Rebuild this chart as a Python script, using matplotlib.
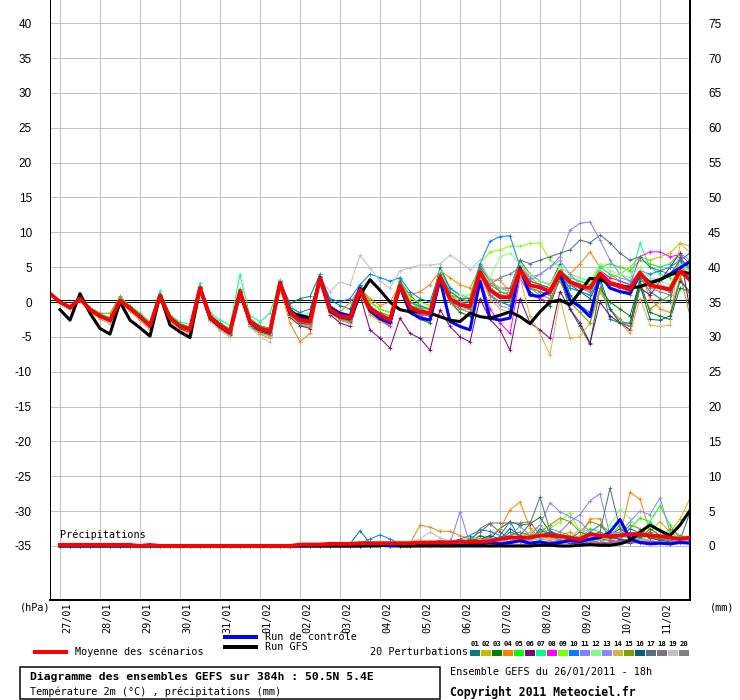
import numpy as np
import matplotlib
matplotlib.use("Agg")
import matplotlib.pyplot as plt
import matplotlib.transforms as mtransforms
from matplotlib.lines import Line2D
from matplotlib.patches import Rectangle

plt.rcParams["axes.unicode_minus"] = False

# 6-hourly steps from 26/01 18h, 0..384h
hours = np.arange(0, 385, 6)
day_ticks = np.arange(6, 385, 24)
day_labels = ["27/01", "28/01", "29/01", "30/01", "31/01", "01/02", "02/02", "03/02",
              "04/02", "05/02", "06/02", "07/02", "08/02", "09/02", "10/02", "11/02"]

member_colors = ["#008080", "#c0c000", "#008000", "#ff8000", "#00ff00", "#800080", "#00ff80",
                 "#ff00ff", "#80ff00", "#0080ff", "#8080ff", "#80ff80", "#8888ff", "#e0b040",
                 "#80a000", "#006080", "#507080", "#807080", "#c0c0c0", "#808080"]

# temperature 2m (°C)
t_mean = [1.2, 0.0, -0.8, 0.5, -1.1, -2.0, -2.6, 0.2, -0.9, -2.1, -3.4, 0.9, -2.3, -3.5, -3.9, 2.0,
          -2.1, -3.4, -4.3, 1.5, -2.8, -3.8, -4.2, 2.7, -1.4, -2.6, -2.8, 3.4, -1.1, -2.0, -2.3, 1.7,
          -0.9, -1.9, -2.6, 2.4, -0.7, -1.4, -1.6, 3.6, 0.5, -0.4, -0.6, 4.3, 1.7, 0.7, 0.7, 4.6,
          2.4, 2.1, 1.5, 4.3, 2.9, 2.3, 2.0, 4.1, 2.7, 2.3, 1.8, 4.2, 2.4, 2.1, 1.8, 4.5, 3.2]
t_control = [1.2, 0.0, -0.8, 0.5, -1.1, -2.0, -2.6, 0.2, -0.9, -2.1, -3.4, 0.9, -2.3, -3.5, -3.9, 2.0,
             -2.1, -3.4, -4.3, 1.5, -2.8, -3.8, -4.2,
             2.8, -1.2, -2.2, -2.5, 3.6, -0.8, -1.6, -2.0, 2.0, -1.2, -2.4, -3.0, 2.2, -1.5, -2.3, -2.6,
             3.2, -2.8, -3.5, -4.0, 3.0, -2.3, -2.6, -2.3, 4.9, 1.0, 0.8, 1.5, 4.1, 0.3, -0.7, -2.1,
             3.9, 2.0, 1.5, 1.2, 4.0, 2.8, 3.2, 4.0, 4.9, 5.8]
t_gfs = [-1.1, -2.6, 1.2, -1.6, -3.8, -4.6, 0.0, -2.6, -3.7, -4.9, 1.0, -3.3, -4.3, -5.1,
         1.9, -2.3, -3.5, -4.4, 1.4, -2.9, -3.9, -4.3,
         2.6, -1.6, -1.9, -2.3, 3.3, -1.3, -2.1, -2.4,
         1.0, 3.2, 1.7, 0.0, -1.1, -1.4, -1.4, -1.6, -2.1, -2.6, -2.8, -1.6,
         -2.1, -2.3, -1.9, -1.4, -2.1, -3.1, -1.4, 0.0, 0.3, -0.4, 1.5, 3.4, 3.2, 2.7, 2.4, 2.0,
         2.2, 2.7, 3.2, 3.9, 4.3, 4.1]

t01 = [1.2, 0.1, -0.7, 0.6, -1.0, -1.9, -2.5, 0.3, -0.8, -2.0, -3.3, 1.0, -2.2, -3.4, -3.8, 2.1,
       -2.0, -3.3, -4.2, 1.6, -2.7, -3.6, -4.0, 3.0, -0.2, 0.5, 0.8, 4.0, 0.3, -0.5, -1.0, 2.5,
       0.0, -1.0, -1.5, 3.0, 1.0, -0.5, -1.0, 5.0, 2.0, 1.0, 0.5, 5.5, 3.0, 1.5, 1.0, 6.0,
       4.0, 3.0, 2.5, 5.5, 1.0, -0.5, -1.5, 3.0, -2.5, -3.0, -3.5, 3.5, 1.5, 0.5, 0.0, 6.5, 4.5]
t02 = [1.1, -0.1, -0.9, 0.4, -1.2, -2.2, -2.8, 0.0, -1.1, -2.4, -3.7, 0.7, -2.6, -3.8, -4.3, 1.6,
       -2.5, -3.9, -4.8, 1.2, -3.3, -4.4, -4.9, 2.2, -2.0, -3.3, -3.6, 3.0, -1.5, -2.6, -3.0, 1.2,
       -1.8, -2.8, -3.5, 2.0, 0.5, 0.0, -0.5, 3.5, 1.5, 0.5, 0.0, 3.8, 2.5, 2.0, 1.5, 5.5,
       3.5, 2.5, 1.0, 3.5, 2.0, 1.5, 1.0, 4.5, 3.5, 4.0, 5.0, 6.5, 6.0, 6.5, 7.0, 8.5, 8.0]
t03 = [1.3, 0.1, -0.6, 0.7, -0.9, -1.8, -2.4, 0.4, -0.7, -1.9, -3.2, 1.1, -2.0, -3.1, -3.6, 2.3,
       -1.8, -3.0, -3.9, 1.9, -2.4, -3.4, -3.8, 3.2, -1.0, -2.2, -2.4, 3.8, -0.5, -1.5, -1.8, 2.3,
       -1.5, -2.5, -3.0, 2.8, -1.0, -2.5, -3.0, 3.0, 0.0, -1.5, -2.0, 4.0, 2.0, 1.0, 0.5, 4.0,
       1.5, 0.5, -0.5, 3.5, -1.0, -3.5, -6.0, 2.0, 0.0, -1.0, -2.0, 3.0, -1.5, -2.0, -2.5, 2.0, 1.5]
t04 = [1.1, -0.2, -1.0, 0.3, -1.4, -2.4, -3.1, -0.1, -1.3, -2.6, -4.0, 0.6, -2.9, -4.2, -4.7, 1.7,
       -2.7, -4.0, -5.0, 1.0, -3.5, -4.6, -5.2, 2.0, -3.0, -5.7, -4.5, 2.8, -1.0, -1.5, 0.0, 2.0,
       0.5, -0.5, 0.0, 2.5, 1.0, 1.5, 2.5, 4.5, 3.5, 2.5, 2.0, 5.0, 3.2, 3.1, 1.5, 5.5,
       4.0, 3.0, 2.5, 5.0, 4.0, 5.5, 7.2, 5.0, 4.0, 3.0, 2.5, 4.5, 0.5, -1.0, -1.5, 3.5, 1.0]
t05 = [1.2, 0.0, -0.7, 0.6, -1.0, -2.1, -2.7, 0.3, -1.0, -2.2, -3.5, 1.0, -2.4, -3.6, -4.1, 2.2,
       -2.2, -3.6, -4.5, 1.7, -2.9, -4.0, -4.5, 2.9, -1.8, -3.2, -3.5, 3.6, -1.3, -2.4, -2.9, 2.2,
       -1.2, -2.2, -2.9, 3.3, 0.0, -1.0, -1.5, 4.5, 1.0, 0.0, -0.5, 5.0, 3.0, 2.0, 1.5, 5.0,
       3.0, 2.5, 2.0, 4.0, 3.5, 3.0, 2.5, 5.0, 5.5, 5.0, 4.5, 6.0, 5.5, 5.0, 5.5, 7.0, 6.0]
t06 = [1.2, -0.1, -0.9, 0.5, -1.2, -2.1, -2.8, 0.1, -1.1, -2.3, -3.7, 0.8, -2.6, -3.9, -4.4, 1.8,
       -2.6, -3.8, -4.7, 1.3, -3.2, -4.3, -4.7, 2.4, -2.2, -3.4, -3.8, 3.0,
       -1.8, -3.0, -3.5, 1.0, -4.0, -5.2, -6.6, -2.3, -4.5, -5.2, -6.9, -1.1, -3.5, -5.0, -5.7,
       0.5, -2.5, -4.0, -6.9, 0.5, -3.0, -4.0, -5.2, 1.5, -1.0, -3.0, -5.9, 0.0, -2.0, -3.0, -4.0,
       2.0, 1.0, 3.0, 5.0, 7.0, -1.1]
t07 = [1.3, 0.1, -0.6, 0.8, -0.8, -1.7, -2.2, 0.7, -0.5, -1.6, -2.8, 1.6, -1.8, -2.9, -3.2, 2.7,
       -1.5, -2.6, -3.3, 3.9, -2.0, -2.8, -1.6,
       3.0, -0.5, -1.8, -2.0, 3.8, -0.8, -1.8, -2.2, 2.5, -0.5, -1.5, -2.0, 3.5, 0.0, -0.8, -1.0,
       4.5, 1.5, 0.5, 0.0, 5.0, 2.0, 1.0, 0.5, 5.0, 3.0, 2.5, 2.0, 4.5, 3.5, 3.0, 2.5, 5.0, 4.0,
       3.5, 3.0, 8.4, 5.0, 4.0, 3.5, 6.0, 4.5]
t08 = [1.2, 0.0, -0.9, 0.4, -1.2, -2.1, -2.8, 0.2, -1.0, -2.3, -3.6, 0.9, -2.4, -3.7, -4.1, 2.0,
       -2.3, -3.6, -4.6, 1.4, -3.1, -4.1, -4.6,
       2.5, -1.8, -3.0, -3.4, 3.2, -1.5, -2.6, -3.0, 1.5, -1.5, -2.5, -3.5, 2.0, -1.0, -2.0, -2.5,
       3.5, 0.0, -1.0, -1.5, 3.5, -1.0, -3.0, -4.5, 3.5, 1.0, 0.5, 0.0, 4.0, 2.5, 2.0, 1.5, 4.5,
       3.5, 3.0, 2.5, 6.5, 7.2, 7.2, 6.5, 6.8, 5.5]
t09 = [1.3, 0.0, -0.8, 0.6, -1.0, -2.0, -2.5, 0.3, -0.8, -2.0, -3.3, 1.0, -2.2, -3.4, -3.8, 2.1,
       -2.0, -3.3, -4.1, 1.6, -2.6, -3.6, -4.0,
       2.8, -1.2, -2.4, -2.6, 3.6, -0.8, -1.5, -2.0, 2.0, 0.0, -1.0, -1.5, 3.0, 0.5, 0.0, -0.5,
       4.0, 2.0, 1.0, 1.0, 5.5, 7.2, 7.5, 8.0, 8.0, 8.4, 8.5, 6.0, 5.0, 4.0, 3.5, 3.0, 4.5, 3.0,
       2.5, 2.0, 4.0, 3.0, 3.5, 4.0, 5.0, 4.5]
t10 = [1.2, 0.1, -0.7, 0.5, -1.1, -1.9, -2.5, 0.2, -0.9, -2.0, -3.3, 0.9, -2.2, -3.4, -3.8, 1.9,
       -2.0, -3.2, -4.1, 1.5, -2.6, -3.5, -3.8,
       2.9, -0.8, -1.5, -1.0, 3.5, 0.5, 0.0, 0.5, 2.5, 4.0, 3.5, 3.0, 3.5, 1.5, 0.5, 0.0,
       4.5, 2.0, 1.0, 0.5, 5.5, 8.7, 9.4, 9.5, 5.0, 3.0, 2.5, 2.0, 4.0, 2.0, 1.5, 1.0, 3.5, 2.5,
       2.0, 2.5, 4.5, 4.0, 4.5, 5.0, 6.0, 7.0]
t11 = [1.1, -0.1, -0.8, 0.4, -1.1, -2.1, -2.7, 0.1, -1.0, -2.2, -3.5, 0.8, -2.4, -3.6, -4.0, 1.9,
       -2.2, -3.5, -4.4, 1.4, -2.9, -3.9, -4.4,
       2.6, -1.6, -2.8, -3.0, 3.3, -1.2, -2.2, -2.5, 1.8, -1.0, -2.0, -2.5, 2.5, -0.5, -1.0, -1.5,
       3.5, 0.5, 0.0, 0.0, 4.5, 2.0, 1.0, 1.5, 5.0, 3.5, 4.0, 5.0, 6.5, 10.3, 11.3, 11.5, 8.9, 6.0,
       4.0, 3.0, 4.0, 2.5, 2.0, 1.5, 4.0, 3.0]
t12 = [1.3, 0.1, -0.7, 0.6, -1.0, -1.9, -2.5, 0.3, -0.8, -2.0, -3.2, 1.1, -2.1, -3.3, -3.7, 2.2,
       -1.9, -3.2, -4.0, 1.7, -2.5, -3.5, -3.9,
       3.1, -1.0, -2.2, -2.4, 3.7, -0.8, -1.6, -1.9, 2.0, -0.5, -1.5, -2.0, 3.0, 0.0, -0.5, -1.0,
       4.5, 1.5, 1.0, 0.5, 5.0, 3.5, 6.5, 7.0, 5.5, 4.0, 3.0, 2.5, 5.0, 4.0, 3.5, 3.0, 5.5, 4.5,
       4.0, 3.5, 5.0, 3.5, 3.0, 2.5, 5.5, 4.5]
t13 = [1.2, 0.0, -0.8, 0.5, -1.1, -2.0, -2.6, 0.2, -0.9, -2.1, -3.4, 0.9, -2.3, -3.5, -3.9, 2.0,
       -2.1, -3.4, -4.3, 1.6, -2.8, -3.8, -4.2,
       2.7, -1.4, -2.6, -2.8, 3.4, -1.0, -2.0, -2.3, 1.8, -0.8, -1.8, -2.5, 2.5, -0.5, -1.2, -1.5,
       3.5, 0.5, -0.5, -1.0, 4.0, 1.0, -0.5, -1.0, 4.5, 3.0, 4.0, 5.0, 6.0, 4.0, 2.5, 2.0, 4.5,
       3.0, 2.5, 2.0, 4.0, 3.0, 2.5, 2.0, 4.5, 4.0]
t14 = [1.1, -0.1, -0.9, 0.3, -1.3, -2.2, -2.9, 0.0, -1.2, -2.5, -3.8, 0.7, -2.7, -4.0, -4.5, 1.7,
       -2.6, -4.0, -4.9, 1.2, -3.3, -4.4, -4.9,
       2.3, -2.0, -3.2, -3.4, 2.9, -1.6, -2.6, -3.0, 1.3, -1.8, -2.8, -3.2, 2.0, -1.5, -2.5, -2.5,
       3.0, 0.0, -1.0, -1.5, 3.5, 0.5, -1.0, -1.5, 3.5, -2.0, -4.5, -7.6, 0.5, -5.2, -5.0, -3.0,
       1.5, -1.0, -3.0, -4.5, 0.5, -3.3, -3.5, -3.3, 8.5, 7.0]
t15 = [1.2, 0.0, -0.7, 0.6, -0.8, -1.6, -1.6, 0.8, -0.6, -1.8, -3.0, 1.0, -2.0, -3.2, -3.6, 2.1,
       -1.9, -3.1, -4.0, 1.6, -2.6, -3.5, -3.9,
       2.8, -1.3, -2.5, -2.7, 3.5, -1.0, -1.8, -2.1, 2.0, -0.8, -1.5, -2.0, 3.0, -0.5, -1.0, -1.0,
       4.0, 1.0, 0.5, 0.0, 4.5, 2.5, 1.5, 1.0, 4.5, 2.0, 1.0, 0.5, 3.0, 0.0, -1.5, -3.0, 2.0,
       -1.0, -2.5, -3.5, 2.0, -1.0, 0.0, 1.0, 4.0, -2.0]
t16 = [1.2, 0.0, -0.8, 0.5, -1.2, -2.0, -2.7, 0.2, -1.0, -2.2, -3.5, 0.9, -2.4, -3.6, -4.0, 2.0,
       -2.2, -3.5, -4.4, 1.5, -3.5, -4.2, -4.6,
       2.5, -1.8, -3.0, -3.2, 3.2, -1.3, -2.3, -2.7, 1.5, -1.2, -2.2, -2.8, 2.3, -1.0, -1.8, -2.0,
       3.5, 0.0, -0.5, -1.0, 4.0, 1.0, 0.0, -0.5, 4.0, 2.0, 1.5, 1.0, 4.0, 2.5, 1.5, 0.5, 3.5,
       -1.0, -3.0, -3.0, 2.5, -2.5, -2.6, -2.0, 3.0, 1.5]
t17 = [1.2, 0.0, -0.8, 0.5, -1.0, -1.9, -2.5, 0.3, -0.7, -1.9, -3.2, 1.0, -2.1, -3.3, -3.7, 2.1,
       -2.0, -3.3, -4.1, 1.6, -2.7, -3.7, -4.1,
       2.9, -1.2, -2.4, -2.6, 3.6, -1.0, -1.9, -2.2, 2.0, -0.6, -1.6, -2.3, 3.0, 0.0, -0.6, -1.0,
       4.0, 1.5, 0.5, 0.5, 5.0, 3.0, 2.0, 2.0, 6.0, 5.5, 6.0, 6.5, 7.0, 7.5, 8.9, 8.5, 9.6, 8.5,
       7.0, 6.0, 6.5, 5.0, 4.5, 4.0, 6.0, 5.0]
t18 = [1.2, 0.0, -0.9, 0.4, -1.1, -2.1, -2.7, 0.1, -1.0, -2.2, -3.5, 0.8, -2.4, -3.6, -4.0, 1.9,
       -2.2, -3.5, -4.4, 1.4, -2.9, -3.9, -4.3,
       2.6, -1.5, -2.7, -2.9, 3.3, -1.2, -2.1, -2.4, 1.6, -1.0, -2.0, -2.7, 2.3, -0.8, -1.5, -1.8,
       3.5, 0.0, -0.5, -0.5, 4.5, 2.5, 3.5, 4.0, 5.0, 3.0, 2.5, 2.0, 4.5, 3.0, 2.5, 2.0, 4.0,
       2.5, 2.0, 1.5, 4.0, 2.5, 2.0, 1.5, 5.0, 4.0]
t19 = [1.1, -0.1, -1.0, 0.3, -1.3, -2.3, -3.0, 0.0, -1.2, -2.5, -3.9, 0.6, -2.8, -4.1, -4.6, 1.6,
       -2.7, -4.1, -5.0, 1.1, -3.6, -5.0, -5.8,
       2.0, -1.5, -2.0, -1.5, 3.5, 1.5, 2.9, 2.4, 6.7, 4.9, 3.0, 2.0, 4.5, 4.9, 5.3, 5.3,
       5.5, 6.7, 5.8, 4.6, 6.0, 3.0, 2.0, 1.5, 4.0, 2.0, 1.5, 1.0, 4.0, 2.5, 2.0, 1.5, 4.5,
       3.0, 2.5, 2.0, 4.5, 3.0, 2.5, 2.0, 5.0, 3.5]
t20 = [1.2, 0.0, -0.8, 0.4, -1.2, -2.1, -2.7, 0.1, -1.0, -2.3, -3.6, 0.8, -2.5, -3.7, -4.1, 1.8,
       -2.4, -3.7, -4.6, 1.3, -3.1, -4.1, -4.5,
       2.5, -1.7, -2.9, -3.1, 3.2, -1.4, -2.4, -2.7, 1.5, -1.2, -2.3, -3.0, 2.2, -1.0, -1.8, -2.0,
       3.5, 0.0, -1.0, -1.0, 4.0, 1.0, 0.0, 0.0, 4.5, 2.0, 1.5, 1.0, 4.0, 2.5, 2.0, 1.5, 4.0,
       2.0, 1.5, 1.0, 4.0, 2.0, 1.5, 1.0, 4.5, 3.0]

# precipitation (mm per 6h), from 27/01 00h (t1..t64)
p_mean = [0.15, 0.15, 0.15, 0.15, 0.15, 0.15, 0.15, 0.15, 0.0, 0.15,
          0.0, 0.0, 0.0, 0.0, 0.0, 0.0, 0.0, 0.0, 0.0, 0.0, 0.0, 0.0, 0.0, 0.0,
          0.2, 0.2, 0.2, 0.3, 0.3, 0.3, 0.4, 0.4, 0.4, 0.4, 0.4, 0.4,
          0.5, 0.5, 0.5, 0.5, 0.6, 0.6, 0.6, 0.7, 1.0, 1.2, 1.2, 1.2, 1.5, 1.5, 1.4, 1.2,
          0.9, 1.7, 1.5, 1.4, 1.5, 1.7, 1.7, 1.5, 1.4, 1.2, 1.0, 1.2]
p_control = [0.0] * 28 + [0.0, 0.0, 0.0, 0.1, 0.1, 0.0, 0.0, 0.0, 0.1, 0.1, 0.1, 0.2, 0.1, 0.2,
                          0.3, 0.5, 0.3, 0.5, 0.8, 0.4, 0.6, 0.3, 0.5, 0.8, 0.6, 1.0, 1.2, 2.0,
                          3.8, 1.0, 0.5, 0.3, 0.4, 0.3, 0.5, 0.4]
p_gfs = [0.0] * 28 + [0.0, 0.0, 0.0, 0.0, 0.0, 0.4, 0.0, 0.0, 0.0, 0.0, 0.0, 0.0, 0.0, 0.0,
                      0.0, 0.0, 0.0, 0.0, 0.0, 0.0, 0.1, 0.1, 0.0, 0.0, 0.1, 0.2, 0.1, 0.1,
                      0.3, 0.8, 2.0, 3.0, 2.2, 1.5, 3.0, 5.1]

p01 = [0.0] * 28 + [0.2, 0.3, 2.2, 0.4, 0.2, 0.1, 0.1, 0.2, 0.3, 0.2, 0.5, 0.8, 0.3, 0.6, 1.0, 1.2,
                    0.8, 2.0, 1.5, 1.0, 2.2, 1.8, 0.6, 0.4, 1.2, 0.8, 0.5, 1.4, 0.9, 0.6, 1.0, 0.8,
                    0.5, 0.3, 0.8, 4.8]
p02 = [0.0] * 28 + [0.0, 0.0, 0.0, 0.0, 0.0, 0.0, 0.0, 0.1, 0.1, 0.1, 0.2, 0.2, 0.3, 0.5, 0.8, 0.6,
                    0.8, 1.5, 1.0, 2.0, 3.0, 1.5, 1.0, 0.8, 1.5, 1.0, 0.8, 1.2, 1.5, 1.0, 0.8, 2.0,
                    3.5, 2.0, 3.9, 6.8]
p03 = [0.0] * 28 + [0.0, 0.1, 0.3, 0.2, 0.1, 0.1, 0.1, 0.1, 0.2, 0.2, 0.3, 0.3, 0.4, 0.6, 1.5, 1.0,
                    2.5, 3.5, 3.0, 3.2, 4.1, 2.0, 1.5, 1.0, 1.2, 0.8, 1.0, 1.5, 2.5, 1.5, 1.0, 2.5,
                    1.5, 1.0, 0.8, 0.5]
p04 = [0.0] * 28 + [0.0, 0.0, 0.1, 0.1, 0.2, 0.2, 0.2, 0.3, 3.0, 2.7, 2.1, 2.1, 1.5, 1.0, 0.8, 1.5,
                    2.4, 5.2, 6.3, 2.6, 1.0, 0.8, 1.5, 2.0, 1.0, 3.9, 3.9, 0.5, 1.5, 7.7, 6.7, 2.0,
                    1.0, 0.5, 0.8, 0.6]
p05 = [0.0] * 28 + [0.0, 0.0, 0.0, 0.0, 0.0, 0.0, 0.1, 0.1, 0.1, 0.2, 0.3, 0.3, 0.5, 0.6, 0.8, 1.0,
                    0.5, 1.0, 1.5, 1.0, 1.5, 1.0, 2.0, 1.5, 1.0, 2.5, 2.0, 1.5, 3.0, 2.5, 4.0, 3.5,
                    5.8, 3.0, 1.0, 0.8]
p06 = [0.0] * 28 + [0.0, 0.0, 0.0, 0.0, 0.0, 0.0, 0.0, 0.0, 0.1, 0.1, 0.1, 0.2, 0.2, 0.3, 0.3, 0.2,
                    0.3, 0.4, 0.5, 0.4, 0.3, 0.5, 0.6, 0.4, 0.3, 0.5, 0.4, 0.3, 0.5, 0.4, 0.6, 0.5,
                    0.4, 0.3, 0.5, 0.4]
p07 = [0.0] * 28 + [0.0, 0.0, 0.0, 0.0, 0.0, 0.1, 0.1, 0.2, 0.2, 0.2, 0.3, 0.4, 0.5, 0.6, 0.8, 1.0,
                    1.2, 1.5, 1.0, 0.8, 1.0, 1.5, 1.2, 1.0, 0.8, 1.5, 1.2, 1.0, 2.0, 1.5, 1.2, 3.5,
                    2.0, 1.0, 0.8, 0.6]
p08 = [0.0] * 28 + [0.0, 0.0, 0.0, 0.0, 0.0, 0.0, 0.0, 0.1, 0.1, 0.1, 0.1, 0.2, 0.2, 0.3, 0.3, 0.4,
                    0.5, 0.6, 0.5, 0.4, 0.6, 0.5, 0.4, 0.5, 0.6, 0.5, 0.4, 0.6, 0.8, 0.6, 0.5, 0.7,
                    0.5, 0.4, 0.6, 0.5]
p09 = [0.0] * 28 + [0.0, 0.0, 0.0, 0.0, 0.0, 0.1, 0.1, 0.1, 0.2, 0.3, 0.5, 0.6, 0.8, 1.2, 1.0, 0.8,
                    0.6, 1.0, 1.5, 2.0, 1.5, 2.5, 3.5, 4.8, 2.0, 1.5, 2.0, 1.0, 1.5, 1.2, 1.0, 1.5,
                    1.0, 0.8, 1.5, 1.2]
p10 = [0.0] * 28 + [0.1, 0.2, 0.3, 1.0, 1.6, 1.0, 0.3, 0.1, 0.2, 0.5, 0.3, 0.6, 1.0, 1.5, 2.3, 2.1,
                    1.5, 3.5, 1.0, 0.8, 2.5, 1.5, 1.0, 0.8, 1.2, 2.0, 3.0, 1.5, 1.0, 2.5, 1.8, 1.2,
                    0.8, 1.0, 1.5, 1.0]
p11 = [0.0] * 28 + [0.0, 0.0, 0.0, 0.1, 0.1, 0.1, 0.2, 0.3, 0.5, 0.3, 0.4, 0.3, 4.9, 0.3, 0.5, 0.8,
                    1.0, 1.5, 2.0, 1.5, 1.2, 2.5, 2.0, 3.5, 4.5, 6.5, 7.5, 1.5, 1.0, 2.0, 1.5, 1.2,
                    1.0, 0.8, 0.6, 0.5]
p12 = [0.0] * 28 + [0.0, 0.0, 0.0, 0.0, 0.0, 0.0, 0.1, 0.1, 0.1, 0.2, 0.2, 0.3, 0.4, 0.5, 0.8, 1.0,
                    0.8, 1.2, 1.5, 1.0, 2.0, 1.5, 1.2, 1.0, 2.5, 2.0, 1.5, 3.0, 5.3, 4.0, 2.0, 1.5,
                    1.0, 0.8, 0.6, 0.5]
p13 = [0.0] * 28 + [0.0, 0.0, 0.0, 0.0, 0.1, 0.1, 0.1, 0.2, 0.2, 0.3, 0.3, 0.4, 0.5, 0.6, 0.8, 1.2,
                    0.6, 1.5, 2.8, 1.5, 3.0, 6.2, 4.9, 4.2, 3.5, 2.0, 1.5, 1.8, 2.0, 3.5, 5.0, 4.5,
                    6.9, 2.0, 1.0, 0.8]
p14 = [0.0] * 28 + [0.0, 0.0, 0.0, 0.0, 0.0, 0.0, 0.0, 0.0, 0.0, 0.0, 0.1, 0.1, 0.1, 0.1, 0.2, 0.2,
                    0.1, 0.1, 0.2, 0.2, 0.3, 0.2, 0.3, 0.5, 0.8, 0.6, 0.5, 1.0, 1.5, 1.2, 1.0, 0.8,
                    1.2, 1.0, 1.5, 1.0]
p15 = [0.0] * 28 + [0.0, 0.0, 0.0, 0.0, 0.0, 0.0, 0.0, 0.1, 0.1, 0.1, 0.2, 0.2, 0.3, 0.4, 0.6, 0.8,
                    1.0, 1.5, 2.0, 1.5, 2.0, 3.0, 4.0, 3.5, 2.0, 3.5, 3.0, 2.0, 1.5, 3.0, 2.5, 1.5,
                    1.0, 2.5, 1.5, 1.0]
p16 = [0.0] * 28 + [0.0, 0.0, 0.0, 0.1, 0.1, 0.1, 0.1, 0.2, 0.2, 0.3, 0.3, 0.4, 0.5, 0.8, 1.0, 1.5,
                    1.0, 2.5, 1.5, 1.0, 1.5, 2.0, 1.5, 1.0, 0.8, 1.0, 1.5, 1.2, 1.0, 0.8, 1.5, 1.2,
                    0.8, 0.6, 0.5, 0.5]
p17 = [0.0] * 28 + [0.0, 0.0, 0.0, 0.0, 0.0, 0.1, 0.1, 0.1, 0.2, 0.5, 0.8, 0.6, 0.4, 1.0, 2.0, 3.2,
                    2.0, 1.0, 1.5, 3.2, 7.0, 2.2, 1.5, 1.0, 2.0, 1.5, 2.0, 8.3, 2.5, 1.5, 1.2, 2.0,
                    1.0, 0.8, 0.6, 0.5]
p18 = [0.0] * 28 + [0.0, 0.0, 0.0, 0.0, 0.0, 0.0, 0.1, 0.1, 0.2, 0.2, 0.3, 0.3, 0.4, 0.5, 2.5, 3.3,
                    3.3, 3.3, 3.3, 3.5, 1.5, 1.0, 0.8, 1.0, 1.2, 0.8, 1.0, 0.8, 0.6, 1.0, 0.8, 0.6,
                    0.5, 0.4, 0.6, 0.5]
p19 = [0.0] * 28 + [0.3, 0.3, 0.2, 0.2, 0.1, 0.1, 0.2, 0.5, 1.0, 2.0, 1.2, 0.7, 0.3, 0.5, 1.0, 0.8,
                    0.6, 1.0, 1.2, 0.8, 1.5, 1.0, 0.8, 1.2, 2.5, 1.5, 1.0, 2.0, 1.5, 1.0, 0.8, 1.5,
                    2.5, 1.0, 0.6, 0.5]
p20 = [0.0] * 28 + [0.0, 0.0, 0.0, 0.0, 0.0, 0.0, 0.0, 0.1, 0.1, 0.1, 0.1, 0.2, 0.2, 0.3, 0.4, 0.5,
                    0.4, 0.6, 0.5, 0.4, 0.5, 0.6, 0.8, 0.6, 0.5, 0.6, 0.5, 0.4, 0.6, 0.5, 0.4, 0.5,
                    0.6, 0.5, 0.4, 0.4]

temp_members = [t01, t02, t03, t04, t05, t06, t07, t08, t09, t10,
                t11, t12, t13, t14, t15, t16, t17, t18, t19, t20]
prec_members = [p01, p02, p03, p04, p05, p06, p07, p08, p09, p10,
                p11, p12, p13, p14, p15, p16, p17, p18, p19, p20]

W, H = 740, 700
PX = 0.72  # 1 pixel in points
MONO = "DejaVu Sans Mono"


def fx(x):
    return x / W


def fy(y):
    return 1 - y / H


fig = plt.figure(figsize=(7.4, 7.0), dpi=100)
ax = fig.add_axes([fx(50), fy(600), 640 / W, 600 / H])
ax2 = ax.twinx()

ax.set_xlim(0, 384)
ax.set_ylim(-42.75, 43.33)
ax2.set_ylim(-7.75, 78.33)

ax.set_axisbelow(True)
ax.set_yticks(np.arange(-35, 41, 5))
ax2.set_yticks(np.arange(0, 76, 5))
ax.set_xticks(day_ticks)
ax.set_xticklabels(day_labels, rotation=90, fontfamily=MONO, fontsize=7.3, va="top", ha="center")
ax.grid(True, color="#c0c0c0", lw=PX)
ax.tick_params(axis="both", length=0)
ax.tick_params(axis="y", pad=13, labelsize=8.5, labelfontfamily="Liberation Sans")
ax.tick_params(axis="x", pad=2)
ax2.tick_params(axis="y", length=0, pad=13, labelsize=8.5, labelfontfamily="Liberation Sans")
shift = mtransforms.ScaledTranslation(7 / 100, 0, fig.dpi_scale_trans)
for lab in ax.get_xticklabels():
    lab.set_transform(lab.get_transform() + shift)

for a in (ax, ax2):
    a.spines["top"].set_visible(False)
    a.spines["left"].set_linewidth(PX)
    a.spines["bottom"].set_linewidth(2 * PX)
    a.spines["right"].set_linewidth(2 * PX)

ax.axhline(0, color="black", lw=PX, zorder=1.5)
ax.axhline(0.3, color="black", lw=PX, zorder=1.5)

# temperature spaghetti
for vals, col in zip(temp_members, member_colors):
    ax.plot(hours, vals, color=col, lw=PX, marker="+", ms=3, mew=0.6, zorder=2)
ax.plot(hours, t_control, color="#0000ff", lw=2.2, zorder=3)
ax.plot(hours[1:], t_gfs, color="black", lw=2.2, zorder=3)
ax.plot(hours, t_mean, color="#ff0000", lw=2.8, zorder=4)

# precipitation spaghetti (right axis)
for vals, col in zip(prec_members, member_colors):
    ax2.plot(hours[1:], vals, color=col, lw=PX, marker="+", ms=3, mew=0.6, zorder=2)
ax2.plot(hours[1:], p_control, color="#0000ff", lw=2.2, zorder=3)
ax2.plot(hours[1:], p_gfs, color="black", lw=2.2, zorder=3)
ax2.plot(hours[1:], p_mean, color="#ff0000", lw=2.8, zorder=4)

fs = 7.3
fig.text(fx(60), fy(535), "Précipitations", fontfamily=MONO, fontsize=fs, va="center")
fig.text(fx(20), fy(607), "(hPa)", fontfamily=MONO, fontsize=fs, va="center")
fig.text(fx(710), fy(607), "(mm)", fontfamily=MONO, fontsize=fs, va="center")

# legend
fig.add_artist(Line2D([fx(35), fx(66)], [fy(652), fy(652)], color="#ff0000", lw=4 * PX))
fig.text(fx(75), fy(652), "Moyenne des scénarios", fontfamily=MONO, fontsize=fs, va="center")
fig.add_artist(Line2D([fx(225), fx(256)], [fy(637), fy(637)], color="#0000ff", lw=4 * PX))
fig.text(fx(265), fy(637), "Run de contrôle", fontfamily=MONO, fontsize=fs, va="center")
fig.add_artist(Line2D([fx(225), fx(256)], [fy(647), fy(647)], color="black", lw=4 * PX))
fig.text(fx(265), fy(647), "Run GFS", fontfamily=MONO, fontsize=fs, va="center")
fig.text(fx(370), fy(652), "20 Perturbations", fontfamily=MONO, fontsize=fs, va="center")
for i, col in enumerate(member_colors):
    x0 = 470 + 11 * i
    fig.add_artist(Rectangle((fx(x0), fy(656)), 10 / W, 6 / H, color=col, lw=0))
    fig.text(fx(x0 + 5), fy(643.5), "%02d" % (i + 1), fontfamily=MONO, fontsize=5.2,
             fontweight="bold", ha="center", va="center")

# title box
fig.add_artist(Rectangle((fx(20), fy(699)), 420 / W, 32 / H, fill=False, ec="black", lw=1.5 * PX))
fig.text(fx(30), fy(677), "Diagramme des ensembles GEFS sur 384h : 50.5N 5.4E",
         fontfamily=MONO, fontsize=8.2, fontweight="bold", va="center")
fig.text(fx(30), fy(692), "Température 2m (°C) , précipitations (mm)",
         fontfamily=MONO, fontsize=fs, va="center")
fig.text(fx(450), fy(672), "Ensemble GEFS du 26/01/2011 - 18h", fontfamily=MONO, fontsize=fs,
         va="center")
fig.text(fx(450), fy(692), "Copyright 2011 Meteociel.fr", fontfamily=MONO, fontsize=8.3,
         fontweight="bold", va="center")

fig.savefig("out.png", dpi=100)
